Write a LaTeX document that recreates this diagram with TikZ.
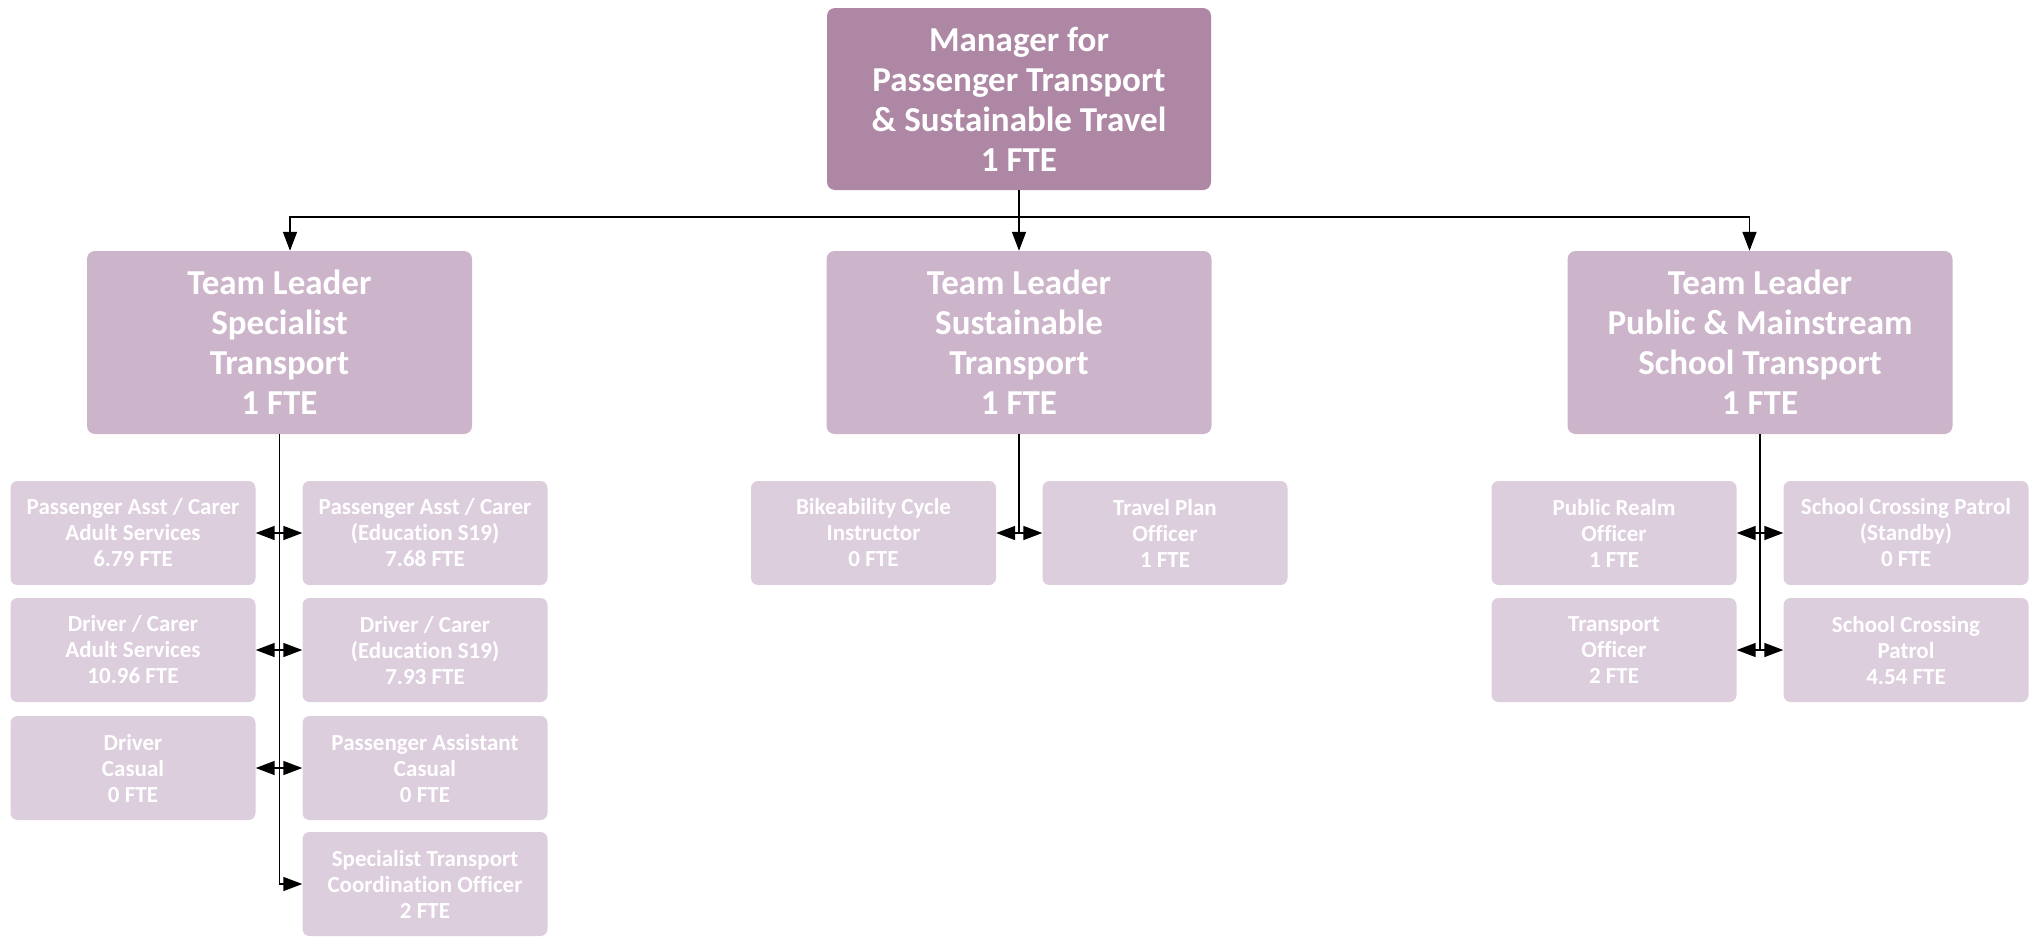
\documentclass[tikz,border=0pt]{standalone}
\usepackage{fontspec}
\setmainfont{Carlito}[Ligatures=NoCommon]
\usetikzlibrary{arrows.meta}
\definecolor{mgrfill}{HTML}{AE87A5}
\definecolor{leadfill}{HTML}{CCB5CA}
\definecolor{stafffill}{HTML}{DDCEDE}
\tikzset{
  boxbase/.style={rectangle, inner sep=0pt, align=center, text=white, font=\bfseries},
  mgrbox/.style={boxbase, fill=mgrfill, rounded corners=8pt, minimum width=384pt, minimum height=182pt, font=\bfseries\fontsize{35}{40}\selectfont},
  leadbox/.style={boxbase, fill=leadfill, rounded corners=8pt, minimum width=385pt, minimum height=183pt, font=\bfseries\fontsize{35}{40}\selectfont},
  staffbox/.style={boxbase, fill=stafffill, rounded corners=7pt, minimum width=245pt, minimum height=104pt, font=\bfseries\fontsize{23}{26}\selectfont},
  link/.style={line width=1.5pt, draw=black},
  tip/.tip={Triangle[length=19pt,width=14pt]},
  arr/.style={link, -tip},
  dblarr/.style={link, tip-tip}
}
\begin{document}
\begin{tikzpicture}[x=1pt,y=-1pt]
\useasboundingbox (0,0) rectangle (2037,937);

% manager
\node[mgrbox] (mgr) at (1019,99) {Manager for\\Passenger Transport\\\& Sustainable Travel\\1 FTE};

% team leaders
\node[leadbox] (tl1) at (279.5,342.5) {Team Leader\\Specialist\\Transport\\1 FTE};
\node[leadbox] (tl2) at (1019,342.5) {Team Leader\\Sustainable\\Transport\\1 FTE};
\node[leadbox] (tl3) at (1760,342.5) {Team Leader\\Public \& Mainstream\\School Transport\\1 FTE};

% specialist transport staff
\node[staffbox] (s1l) at (133,533) {Passenger Asst / Carer\\Adult Services\\6.79 FTE};
\node[staffbox] (s1r) at (425,533) {Passenger Asst / Carer\\(Education S19)\\7.68 FTE};
\node[staffbox] (s2l) at (133,650) {Driver / Carer\\Adult Services\\10.96 FTE};
\node[staffbox] (s2r) at (425,650) {Driver / Carer\\(Education S19)\\7.93 FTE};
\node[staffbox] (s3l) at (133,768) {Driver\\Casual\\0 FTE};
\node[staffbox] (s3r) at (425,768) {Passenger Assistant\\Casual\\0 FTE};
\node[staffbox] (s4r) at (425,884) {Specialist Transport\\Coordination Officer\\2 FTE};

% sustainable transport staff
\node[staffbox] (m1l) at (873.5,533) {Bikeability Cycle\\Instructor\\0 FTE};
\node[staffbox] (m1r) at (1165,533) {Travel Plan\\Officer\\1 FTE};

% public & mainstream school transport staff
\node[staffbox] (p1l) at (1614,533) {Public Realm\\Officer\\1 FTE};
\node[staffbox] (p1r) at (1906,533) {School Crossing Patrol\\(Standby)\\0 FTE};
\node[staffbox] (p2l) at (1614,650) {Transport\\Officer\\2 FTE};
\node[staffbox] (p2r) at (1906,650) {School Crossing\\Patrol\\4.54 FTE};

% manager to team leaders
\coordinate (bus) at (1019,217);
\draw[link] (mgr.south) -- (bus);
\draw[arr] (bus) -| ([xshift=10.5pt]tl1.north);
\draw[arr] (bus) -| ([xshift=-10.5pt]tl3.north);
\draw[arr] (bus) -- (tl2.north);

% specialist transport branch
\draw[arr] (tl1.south) |- (s4r.west);
\draw[dblarr] (s1l.east) -- (s1r.west);
\draw[dblarr] (s2l.east) -- (s2r.west);
\draw[dblarr] (s3l.east) -- (s3r.west);

% sustainable transport branch
\draw[link] (tl2.south) -- (tl2.south |- m1l.east);
\draw[dblarr] (m1l.east) -- (m1r.west);

% public & mainstream branch
\draw[link] (tl3.south) -- (tl3.south |- p2l.east);
\draw[dblarr] (p1l.east) -- (p1r.west);
\draw[dblarr] (p2l.east) -- (p2r.west);
\end{tikzpicture}
\end{document}
